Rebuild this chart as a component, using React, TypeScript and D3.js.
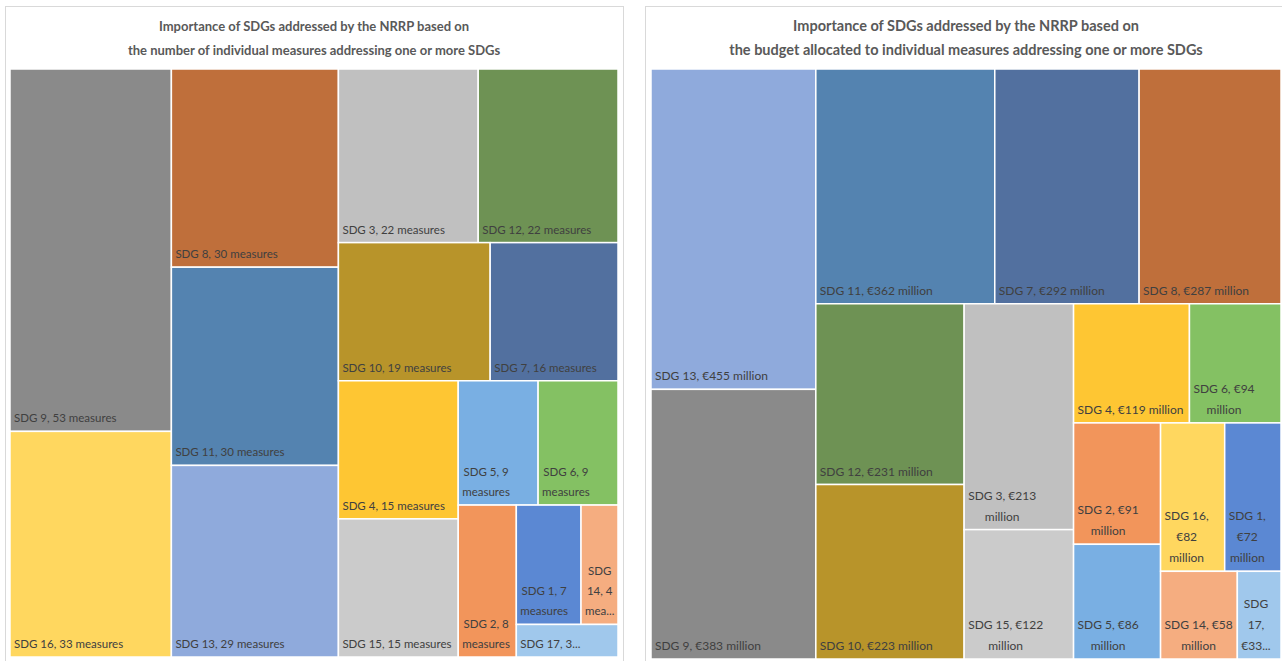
import React from "react";
import * as d3 from "d3";

// Left chart: number of measures per SDG (Excel order)
const measureSdgs = [9, 16, 8, 11, 13, 3, 12, 10, 7, 4, 15, 5, 6, 2, 1, 14, 17];
const measureCounts = [53, 33, 30, 30, 29, 22, 22, 19, 16, 15, 15, 9, 9, 8, 7, 4, 3];

// Right chart: budget per SDG, € million
const budgetSdgs = [13, 9, 11, 7, 8, 12, 10, 3, 15, 4, 6, 2, 5, 16, 1, 14, 17];
const budgetMillions = [455, 383, 362, 292, 287, 231, 223, 213, 122, 119, 94, 91, 86, 82, 72, 58, 33];

const measureTitle = [
  "Importance of SDGs addressed by the NRRP based on",
  "the number of individual measures addressing one or more SDGs",
];
const budgetTitle = [
  "Importance of SDGs addressed by the NRRP based on",
  "the budget allocated to individual measures addressing one or more SDGs",
];

// strip order used by Excel's treemap: direction + number of tiles per strip
type Strip = ["col" | "row", number];
const measurePlan: Strip[] = [["col", 2], ["col", 3], ["row", 2], ["row", 2], ["col", 2], ["row", 2], ["col", 1], ["row", 2], ["row", 1]];
const budgetPlan: Strip[] = [["col", 2], ["row", 3], ["col", 2], ["col", 2], ["row", 2], ["col", 2], ["row", 2], ["row", 2]];

const sdgColors: Record<number, string> = {
  1: "#5b88d3",
  2: "#f2955b",
  3: "#c0c0c0",
  4: "#fec633",
  5: "#79afe3",
  6: "#84c163",
  7: "#52709f",
  8: "#bf6f3b",
  9: "#8a8a8a",
  10: "#b8942a",
  11: "#5483b0",
  12: "#6e9254",
  13: "#8faadc",
  14: "#f5ad80",
  15: "#cbcbcb",
  16: "#ffd75f",
  17: "#a0c8ec",
};

const FONT = "Lato, 'Open Sans', sans-serif";

function planTile(plan: Strip[]) {
  return (parent: any, x0: number, y0: number, x1: number, y1: number) => {
    const nodes = parent.children;
    let i = 0;
    let remaining = parent.value;
    for (const [dir, count] of plan) {
      const strip = nodes.slice(i, i + count);
      const sum = d3.sum(strip, (d: any) => d.value);
      const group: any = { children: strip, value: sum };
      if (dir === "col") {
        const nx = x0 + ((x1 - x0) * sum) / remaining;
        d3.treemapSlice(group, x0, y0, nx, y1);
        x0 = nx;
      } else {
        const ny = y0 + ((y1 - y0) * sum) / remaining;
        d3.treemapDice(group, x0, y0, x1, ny);
        y0 = ny;
      }
      remaining -= sum;
      i += count;
    }
  };
}

let ctx: CanvasRenderingContext2D | null = null;
function measure(text: string, font: string) {
  if (!ctx) ctx = document.createElement("canvas").getContext("2d");
  ctx!.font = font;
  return ctx!.measureText(text).width;
}

function wrapLabel(text: string, maxW: number, maxLines: number, font: string) {
  const words = text.split(" ");
  const lines: string[] = [];
  let cur = "";
  let k = 0;
  for (; k < words.length; k++) {
    const w = words[k];
    const trial = cur ? cur + " " + w : w;
    if (measure(trial, font) <= maxW) {
      cur = trial;
      continue;
    }
    if (cur) {
      lines.push(cur);
      cur = "";
      if (lines.length >= maxLines) break;
    }
    if (measure(w, font) <= maxW) {
      cur = w;
    } else {
      // word too long: cut it and stop
      let n = w.length - 1;
      while (n > 1 && measure(w.slice(0, n) + "...", font) > maxW + 4) n--;
      cur = w.slice(0, n) + "...";
      k = words.length;
      lines.push(cur);
      cur = "";
      break;
    }
  }
  if (cur) lines.push(cur);
  if (lines.length > maxLines || (k < words.length && lines.length >= maxLines)) {
    lines.length = maxLines;
    if (!lines[maxLines - 1].endsWith("...")) lines[maxLines - 1] += "...";
  }
  return lines;
}

interface TreeProps {
  sdgs: number[];
  values: number[];
  unit: (v: number) => string;
  plan: Strip[];
  title: string[];
  frame: [number, number, number, number];
  plot: [number, number, number, number];
  titleSize: number;
  labelSize: number;
  lineH: number;
}

function Tree({ sdgs, values, unit, plan, title, frame, plot, titleSize, labelSize, lineH }: TreeProps) {
  const data = sdgs.map((s, i) => ({ sdg: s, value: values[i] }));
  const root = d3
    .hierarchy<any>({ children: data })
    .sum((d: any) => d.value || 0);
  const [px0, py0, px1, py1] = plot;
  d3.treemap<any>().tile(planTile(plan) as any).size([px1 - px0, py1 - py0])(root);
  const font = `${labelSize}px ${FONT}`;
  const cx = (px0 + px1) / 2;

  return (
    <g>
      <rect x={frame[0]} y={frame[1]} width={frame[2]} height={frame[3]} fill="#fff" stroke="#d9d9d9" />
      {title.map((t, i) => (
        <text key={i} x={cx} y={31 + i * 24} textAnchor="middle" fontFamily={FONT} fontWeight={700} fontSize={titleSize} fill="#595959">
          {t}
        </text>
      ))}
      <g transform={`translate(${px0},${py0})`}>
        {root.leaves().map((n: any) => {
          const w = n.x1 - n.x0;
          const h = n.y1 - n.y0;
          const label = `SDG ${n.data.sdg}, ${unit(n.data.value)}`;
          const maxLines = Math.max(1, Math.floor((h - 10) / lineH));
          const lines = wrapLabel(label, w - 8, maxLines, font);
          const widths = lines.map((l) => measure(l, font));
          const blockW = Math.max(...widths);
          const mid = n.x0 + 4 + blockW / 2;
          return (
            <g key={n.data.sdg}>
              <rect x={n.x0} y={n.y0} width={w} height={h} fill={sdgColors[n.data.sdg]} stroke="#fff" strokeWidth={1.5} />
              {lines.map((l, i) => (
                <text
                  key={i}
                  x={mid}
                  y={n.y1 - 9 - (lines.length - 1 - i) * lineH}
                  textAnchor="middle"
                  fontFamily={FONT}
                  fontSize={labelSize}
                  fill="#404040"
                >
                  {l}
                </text>
              ))}
            </g>
          );
        })}
      </g>
    </g>
  );
}

export default function App() {
  return (
    <svg width={1282} height={661} style={{ position: "absolute", left: 0, top: 0, background: "#fff" }}>
      <Tree
        sdgs={measureSdgs}
        values={measureCounts}
        unit={(v) => `${v} measures`}
        plan={measurePlan}
        title={measureTitle}
        frame={[5.5, 6.5, 618, 700]}
        plot={[10, 69, 618, 657]}
        titleSize={13}
        labelSize={11.5}
        lineH={20}
      />
      <Tree
        sdgs={budgetSdgs}
        values={budgetMillions}
        unit={(v) => `€${v} million`}
        plan={budgetPlan}
        title={budgetTitle}
        frame={[645.5, 6.5, 700, 700]}
        plot={[651, 69, 1281, 659]}
        titleSize={14.5}
        labelSize={12}
        lineH={21}
      />
    </svg>
  );
}
